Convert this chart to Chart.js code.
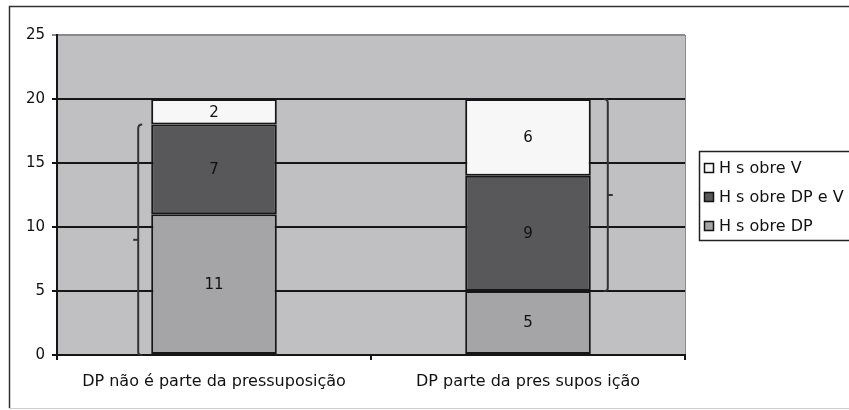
<!DOCTYPE html>
<html>
<head>
<meta charset="utf-8">
<script src="https://cdn.jsdelivr.net/npm/chart.js@4/dist/chart.umd.min.js"></script>
<style>
html,body{margin:0;padding:0;background:#fff;}
#wrap{position:relative;width:849px;height:410px;}
</style>
</head>
<body>
<div id="wrap"><canvas id="c" width="849" height="410"></canvas></div>
<script>
// ---- data ----
const categories = ["DP não é parte da pressuposição", "DP parte da pres supos ição"];
const seriesNames = ["H s obre DP", "H s obre DP e V", "H s obre V"];
const hSobreDP = [11, 5];
const hSobreDPeV = [7, 9];
const hSobreV = [2, 6];
const yTicks = [0, 5, 10, 15, 20, 25];
// brackets: from value to value, per category
const bracketFrom = [0, 5];
const bracketTo = [18, 20];
const bracketSide = ["left", "right"];

const colors = ["#a5a5a7", "#58585a", "#f7f7f7"];
const FONT = "'DejaVu Sans', sans-serif";

const bgPlugin = {
  id: 'bg',
  beforeDraw(chart) {
    const ctx = chart.ctx, a = chart.chartArea;
    ctx.save();
    ctx.fillStyle = '#fff';
    ctx.fillRect(0, 0, chart.width, chart.height);
    // outer frame
    ctx.strokeStyle = '#333';
    ctx.lineWidth = 1.5;
    ctx.beginPath();
    ctx.moveTo(9.5, 408); ctx.lineTo(9.5, 6.5); ctx.lineTo(849, 6.5);
    ctx.stroke();
    ctx.strokeStyle = '#cfcfcf';
    ctx.lineWidth = 1;
    ctx.beginPath();
    ctx.moveTo(9, 408.5); ctx.lineTo(849, 408.5);
    ctx.stroke();
    // plot area
    ctx.fillStyle = '#c0c0c2';
    ctx.fillRect(a.left, a.top, a.right - a.left, a.bottom - a.top);
    ctx.strokeStyle = '#8a8a8c';
    ctx.lineWidth = 1;
    ctx.beginPath();
    ctx.moveTo(a.right + 0.5, a.top); ctx.lineTo(a.right + 0.5, a.bottom);
    ctx.stroke();
    ctx.restore();
  }
};

const labelPlugin = {
  id: 'vals',
  afterDatasetsDraw(chart) {
    const ctx = chart.ctx;
    ctx.save();
    ctx.font = "15px " + FONT;
    ctx.fillStyle = '#111';
    ctx.textAlign = 'center';
    ctx.textBaseline = 'middle';
    chart.data.datasets.forEach((ds, di) => {
      chart.getDatasetMeta(di).data.forEach((bar, i) => {
        const p = bar.getProps(['x', 'y', 'base'], true);
        ctx.fillText(String(ds.data[i]), p.x, (p.y + p.base) / 2 + 1);
      });
    });
    // brackets
    const y = chart.scales.y;
    const meta = chart.getDatasetMeta(0);
    ctx.strokeStyle = '#333';
    ctx.lineWidth = 2;
    bracketFrom.forEach((f, i) => {
      const bar = meta.data[i].getProps(['x', 'width'], true);
      const left = bracketSide[i] === 'left';
      const x = left ? bar.x - bar.width / 2 - 13 : bar.x + bar.width / 2 + 17;
      const yb = y.getPixelForValue(f), yt = y.getPixelForValue(bracketTo[i]);
      const ym = (yb + yt) / 2;
      const d = left ? 1 : -1;
      ctx.beginPath();
      ctx.moveTo(x + 4 * d, yt);
      ctx.quadraticCurveTo(x, yt, x, yt + 4);
      ctx.lineTo(x, yb - 3);
      ctx.quadraticCurveTo(x, yb, x + 4 * d, yb);
      ctx.stroke();
      ctx.beginPath();
      ctx.moveTo(x, ym); ctx.lineTo(x - 5 * d, ym);
      ctx.stroke();
    });
    ctx.restore();
  }
};

const legendPlugin = {
  id: 'leg',
  afterDraw(chart) {
    const ctx = chart.ctx;
    ctx.save();
    ctx.strokeStyle = '#222';
    ctx.lineWidth = 1.5;
    ctx.strokeRect(699.5, 151.5, 160, 89);
    ctx.font = "16px " + FONT;
    ctx.textBaseline = 'middle';
    ctx.textAlign = 'left';
    const order = [2, 1, 0];
    order.forEach((di, k) => {
      const yy = 168 + k * 29;
      ctx.fillStyle = colors[di];
      ctx.fillRect(704.5, yy - 4.5, 9, 9);
      ctx.strokeStyle = '#111';
      ctx.lineWidth = 1.5;
      ctx.strokeRect(704.5, yy - 4.5, 9, 9);
      ctx.fillStyle = '#111';
      ctx.fillText(seriesNames[di], 719, yy + 1);
    });
    ctx.restore();
  }
};

new Chart(document.getElementById('c'), {
  type: 'bar',
  data: {
    labels: categories,
    datasets: [
      { label: seriesNames[0], data: hSobreDP, backgroundColor: colors[0] },
      { label: seriesNames[1], data: hSobreDPeV, backgroundColor: colors[1] },
      { label: seriesNames[2], data: hSobreV, backgroundColor: colors[2] }
    ].map(d => Object.assign(d, { borderColor: '#161616', borderWidth: 2, borderSkipped: false,
        categoryPercentage: 1, barPercentage: 0.4 }))
  },
  options: {
    responsive: false,
    animation: false,
    layout: { padding: { left: 9, top: 35, right: 164, bottom: 0 } },
    plugins: { legend: { display: false }, tooltip: { enabled: false } },
    scales: {
      x: {
        stacked: true,
        offset: true,
        grid: { display: true, drawOnChartArea: false, drawTicks: true, tickLength: 5, color: '#161616', lineWidth: 2, offset: true },
        border: { display: true, color: '#161616', width: 2 },
        ticks: { font: { family: FONT, size: 16 }, color: '#111', padding: 12, maxRotation: 0 },
        afterFit(s) { s.height = 55; }
      },
      y: {
        stacked: true,
        min: 0, max: 25,
        afterBuildTicks(s) { s.ticks = yTicks.map(v => ({ value: v })); },
        grid: { color: ctx => ctx.tick && ctx.tick.value === 25 ? '#8a8a8c' : '#161616', lineWidth: 2, tickLength: 5, drawTicks: true },
        border: { display: true, color: '#161616', width: 2 },
        ticks: { font: { family: FONT, size: 15 }, color: '#111', padding: 7 },
        afterFit(s) { s.width = 48; }
      }
    }
  },
  plugins: [bgPlugin, labelPlugin, legendPlugin]
});
</script>
</body>
</html>
